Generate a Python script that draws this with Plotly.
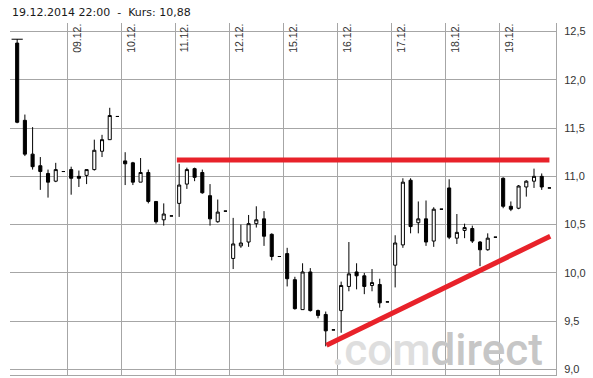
import plotly.graph_objects as go

# ---- data ----
days = ["08.12.", "09.12.", "10.12.", "11.12.", "12.12.", "15.12.", "16.12.", "17.12.", "18.12.", "19.12."]
slots_per_day = 7  # 2-hour bars 08-22

opens = [12.38, 11.58, 11.23, 11.11, 11.03, 10.95, 11.05,
         11.07, 11.00, 11.01, 11.07, 11.26, 11.38, 11.62,
         11.16, 11.14, 10.94, 11.04, 10.74, 10.55, 10.59,
         10.72, 10.92, 11.08, 11.04, 10.80, 10.53, 10.64,
         10.15, 10.28, 10.32, 10.51, 10.56, 10.40, 10.17,
         10.20, 9.93, 9.62, 10.01, 9.61, 9.57, 9.41,
         9.61, 9.86, 10.01, 9.97, 9.87, 9.88, 9.70,
         10.08, 10.29, 10.96, 10.52, 10.56, 10.33, 10.66,
         10.88, 10.36, 10.44, 10.46, 10.32, 10.24, 10.37,
         10.98, 10.69, 10.67, 10.89, 10.95, 11.00, 10.88]
highs = [12.42, 11.64, 11.51, 11.20, 11.07, 11.14, 11.05,
         11.10, 11.06, 11.07, 11.38, 11.43, 11.71, 11.62,
         11.25, 11.15, 11.19, 11.07, 10.74, 10.72, 10.59,
         11.13, 11.09, 11.09, 11.07, 10.92, 10.76, 10.64,
         10.57, 10.50, 10.60, 10.69, 10.64, 10.41, 10.17,
         10.26, 9.96, 10.10, 10.05, 9.62, 9.60, 9.41,
         9.91, 10.32, 10.10, 10.00, 10.04, 9.94, 9.70,
         10.39, 10.98, 10.98, 10.74, 10.75, 10.68, 10.66,
         10.97, 10.61, 10.51, 10.49, 10.33, 10.41, 10.37,
         10.99, 10.74, 10.91, 10.96, 11.08, 11.03, 10.88]
lows = [11.55, 11.21, 11.07, 10.86, 10.78, 10.94, 11.05,
        10.81, 10.89, 10.92, 11.06, 11.20, 11.38, 11.62,
        10.91, 10.91, 10.94, 10.72, 10.51, 10.49, 10.59,
        10.58, 10.87, 10.95, 10.82, 10.49, 10.52, 10.64,
        10.04, 10.26, 10.27, 10.47, 10.28, 10.13, 10.17,
        9.86, 9.62, 9.62, 9.60, 9.53, 9.24, 9.41,
        9.38, 9.81, 9.83, 9.78, 9.81, 9.64, 9.70,
        9.85, 10.26, 10.41, 10.41, 10.28, 10.27, 10.66,
        10.35, 10.30, 10.36, 10.31, 10.07, 10.23, 10.37,
        10.67, 10.64, 10.66, 10.79, 10.88, 10.86, 10.88]
closes = [11.56, 11.23, 11.10, 11.05, 10.94, 11.07, 11.05,
          10.98, 10.98, 11.07, 11.27, 11.38, 11.63, 11.62,
          11.13, 10.94, 11.04, 10.74, 10.53, 10.61, 10.59,
          10.91, 11.07, 10.99, 10.83, 10.56, 10.63, 10.64,
          10.30, 10.31, 10.51, 10.55, 10.38, 10.17, 10.17,
          9.94, 9.63, 10.01, 9.61, 9.56, 9.40, 9.41,
          9.87, 9.99, 9.97, 9.86, 9.90, 9.69, 9.70,
          10.31, 10.94, 10.48, 10.56, 10.32, 10.66, 10.66,
          10.37, 10.42, 10.47, 10.33, 10.24, 10.36, 10.37,
          10.69, 10.66, 10.90, 10.95, 11.00, 10.89, 10.88]

y_ticks = [9.0, 9.5, 10.0, 10.5, 11.0, 11.5, 12.0, 12.5]
y_tick_labels = ["9,0", "9,5", "10,0", "10,5", "11,0", "11,5", "12,0", "12,5"]

# hand-drawn trend lines (bar index, price)
resistance_x = [20.7, 69.0]
resistance_y = [11.17, 11.17]
support_x = [40.1, 69.1]
support_y = [9.25, 10.38]

title_text = "19.12.2014 22:00&nbsp;&nbsp;-&nbsp;&nbsp;Kurs: 10,88"

# ---- figure ----
n = len(opens)
xs = list(range(n))
day_bounds = [d * slots_per_day - 0.5 for d in range(1, len(days))]

fig = go.Figure()
fig.add_trace(go.Candlestick(
    x=xs, open=opens, high=highs, low=lows, close=closes,
    increasing=dict(line=dict(color="black", width=1), fillcolor="white"),
    decreasing=dict(line=dict(color="black", width=1), fillcolor="black"),
    whiskerwidth=0, showlegend=False, hoverinfo="skip",
))
# cap on first bar's high
fig.add_trace(go.Scatter(
    x=[xs[0]], y=[highs[0]], mode="markers",
    marker=dict(symbol="line-ew-open", size=8, color="black",
                line=dict(color="black", width=1)),
    showlegend=False, hoverinfo="skip",
))
red = "#e8222a"
fig.add_trace(go.Scatter(x=resistance_x, y=resistance_y, mode="lines",
                         line=dict(color=red, width=5), showlegend=False, hoverinfo="skip"))
fig.add_trace(go.Scatter(x=support_x, y=support_y, mode="lines",
                         line=dict(color=red, width=5), showlegend=False, hoverinfo="skip"))

grid = "#a6a6a6"
fig.update_layout(
    width=593, height=378,
    margin=dict(l=10, r=37, t=23, b=3),
    paper_bgcolor="white", plot_bgcolor="white",
    showlegend=False,
    boxgap=0.43,
    xaxis=dict(
        range=[-0.93, 69.85], tickvals=day_bounds, showticklabels=False,
        showgrid=True, gridcolor=grid, gridwidth=1, zeroline=False,
        showline=True, linecolor=grid, linewidth=1, ticks="",
        rangeslider=dict(visible=False), fixedrange=True,
    ),
    yaxis=dict(
        range=[8.943, 12.588], side="right", tickvals=y_ticks, ticktext=y_tick_labels,
        showgrid=True, gridcolor=grid, gridwidth=1, zeroline=False,
        showline=True, linecolor=grid, linewidth=1, ticks="",
        ticklabelstandoff=5, fixedrange=True,
        tickfont=dict(family="Arial, Liberation Sans", size=11, color="#333333"),
    ),
)

annotations = []
for xb, lab in zip(day_bounds, days[1:]):
    annotations.append(dict(
        x=xb, y=1, xref="x", yref="paper", text=lab, textangle=-90,
        xanchor="left", yanchor="top", showarrow=False, xshift=1, yshift=1,
        font=dict(family="Arial, Liberation Sans", size=10.5, color="#333333"),
    ))
annotations.append(dict(
    x=0, y=1.031, xref="paper", yref="paper", text=title_text,
    xanchor="left", yanchor="middle", showarrow=False, xshift=0,
    font=dict(family="Tahoma, Verdana, DejaVu Sans", size=11, color="#1a1a1a"),
))
annotations.append(dict(
    x=0.599, y=0.071, xref="paper", yref="paper",
    text="<span style='color:#dedede'>.com</span><span style='color:#c6c6c6'>direct</span>",
    xanchor="left", yanchor="middle", showarrow=False, xshift=-7,
    font=dict(family="Roboto", size=44, weight=500, color="#c6c6c6"),
))
fig.update_layout(annotations=annotations)

fig.write_html("out.html", config={"displayModeBar": False},
               post_script="document.body.style.margin='0';")
